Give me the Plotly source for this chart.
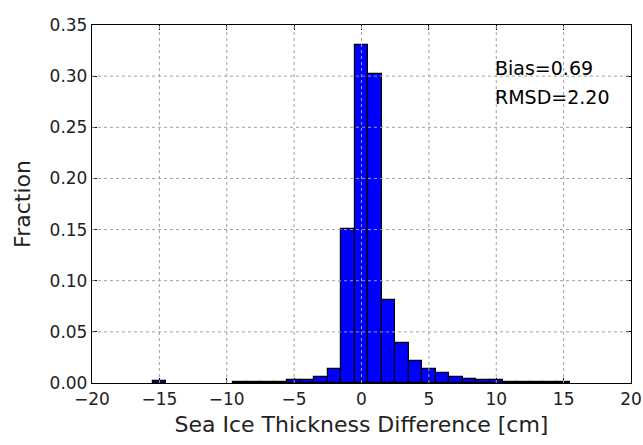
import plotly.graph_objects as go

# Histogram bin centres (width 1 cm) and fractions (non-empty bins)
bin_centers = [-15, -9, -8, -7, -6, -5, -4, -3, -2, -1, 0, 1, 2, 3, 4, 5, 6, 7, 8, 9, 10,
               11, 12, 13, 14, 15]
fractions = [0.002, 0.001, 0.001, 0.001, 0.001, 0.003, 0.003, 0.006, 0.014, 0.151,
             0.330, 0.302, 0.081, 0.039, 0.022, 0.014, 0.0093, 0.006, 0.0042, 0.0026,
             0.0026, 0.001, 0.001, 0.001, 0.001, 0.001]
x_ticks = [-20, -15, -10, -5, 0, 5, 10, 15, 20]
y_ticks = [0.0, 0.05, 0.10, 0.15, 0.20, 0.25, 0.30, 0.35]
stats_lines = ["Bias=0.69", "RMSD=2.20"]

FONT = "DejaVu Sans"
TICK_FS = 17
TITLE_FS = 22
TEXT_FS = 19
TXT = "#222222"

fig = go.Figure()
fig.add_trace(go.Bar(
    x=bin_centers, y=fractions, width=1.0,
    marker=dict(color="#0000ff", line=dict(color="black", width=1.2)),
    showlegend=False,
))

# dotted grid drawn above the bars (matplotlib classic style)
shapes = []
for xv in x_ticks[1:-1]:
    shapes.append(dict(type="line", xref="x", yref="paper", x0=xv, x1=xv, y0=0, y1=1,
                       line=dict(color="#a0a0a0", width=1, dash="3px,3px"), layer="above"))
for yv in y_ticks[1:-1]:
    shapes.append(dict(type="line", xref="paper", yref="y", x0=0, x1=1, y0=yv, y1=yv,
                       line=dict(color="#a0a0a0", width=1, dash="3px,3px"), layer="above"))

axis_common = dict(
    showline=True, linecolor="black", linewidth=1.3, mirror="allticks",
    ticks="inside", ticklen=5, tickwidth=1, tickcolor="black",
    showgrid=False, zeroline=False, automargin=False,
    tickfont=dict(family=FONT, size=TICK_FS, color=TXT),
)

fig.update_layout(
    width=643, height=445,
    margin=dict(l=92, r=12, t=25, b=62, autoexpand=False),
    paper_bgcolor="white", plot_bgcolor="white",
    bargap=0,
    shapes=shapes,
    font=dict(family=FONT, size=TICK_FS, color=TXT),
    xaxis=dict(range=[-20, 20], tickvals=x_ticks,
               title=dict(text="Sea Ice Thickness Difference [cm]", standoff=9,
                          font=dict(family=FONT, size=TITLE_FS, color=TXT)),
               **axis_common),
    yaxis=dict(range=[0, 0.35], tickvals=y_ticks, tickformat=".2f",
               title=dict(text="Fraction", standoff=12,
                          font=dict(family=FONT, size=TITLE_FS, color=TXT)),
               **axis_common),
)

fig.add_annotation(x=9.75, y=0.3075, xref="x", yref="y", text=stats_lines[0],
                   showarrow=False, xanchor="left", yanchor="middle",
                   font=dict(family=FONT, size=TEXT_FS, color="black"))
fig.add_annotation(x=9.75, y=0.2797, xref="x", yref="y", text=stats_lines[1],
                   showarrow=False, xanchor="left", yanchor="middle",
                   font=dict(family=FONT, size=TEXT_FS, color="black"))

fig.write_html("out.html", config={"displayModeBar": False},
               post_script="document.body.style.margin='0';document.body.style.padding='0';")
